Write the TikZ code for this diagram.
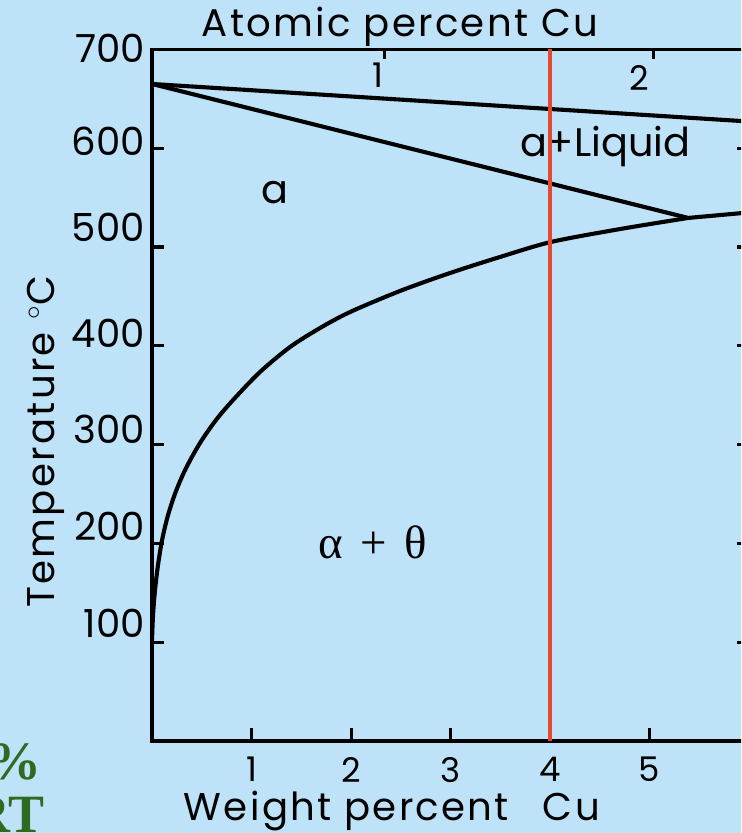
\documentclass[tikz,border=0pt]{standalone}
\usepackage{fix-cm}
\usepackage{fontspec}
\setsansfont{Poppins}
\newfontfamily\axisfont[LetterSpace=6]{Poppins}
\newfontfamily\slideserif{Liberation Serif}
\usetikzlibrary{positioning}
\definecolor{bgblue}{HTML}{BEE3F8}
\definecolor{alloyred}{HTML}{E5482E}
\definecolor{slidegreen}{HTML}{2F6A22}

\begin{document}
\begin{tikzpicture}[
 x=2.985cm,y=0.02964cm,
 font=\sffamily,
 axisline/.style={line width=3.2pt,line cap=rect},
 phaseline/.style={line width=3.5pt,line join=round,line cap=round},
 tickmark/.style={line width=2.6pt},
 ticklbl/.style={font=\sffamily\fontsize{33}{36}\selectfont,inner sep=0pt},
 smalllbl/.style={font=\sffamily\fontsize{29}{32}\selectfont,inner sep=0pt},
 axlbl/.style={font=\axisfont\fontsize{33}{36}\selectfont,inner sep=0pt},
 phaselbl/.style={font=\sffamily\fontsize{34}{38}\selectfont,inner sep=0pt},
 slidebit/.style={font=\slideserif\bfseries\fontsize{46}{50}\selectfont,text=slidegreen,inner sep=0pt}
]
% page and frame
\fill[bgblue] (-1.5276,-93.12) rectangle (5.9196,750);
\clip (-1.5276,-93.12) rectangle (5.9196,750);

% leftovers of the slide
\node[slidebit,anchor=east] (pct) at (-1.105,-21) {\%};
\node[slidebit,anchor=north east] (rt) at (-1.075,-57) {RT};

% axes
\draw[axisline] (0,700) -- (0,0) -- (6,0) -- (6,700) -- cycle;
\foreach \t/\ly in {100/119,200/217,300/315,400/413,500/520,600/607,700/701}{
  \node[ticklbl,anchor=east] (ylbl\t) at (-0.07,\ly) {\t};
}
\foreach \t in {100,200,...,600}{
  \draw[tickmark] (0,\t) -- (0.12,\t);
  \draw[tickmark] (6,\t) -- (5.88,\t);
}
\foreach \w in {1,...,5}{
  \draw[tickmark] (\w,0) -- (\w,13);
  \node[smalllbl] (xlbl\w) at (\w,-29) {\w};
}
% atomic percent ticks
\draw[tickmark] (2.34,700) -- (2.34,690);
\draw[tickmark] (5.04,700) -- (5.04,690);
\node[smalllbl] (at1) at (2.27,674) {1};
\node[smalllbl] (at2) at (4.90,671) {2};

\node[axlbl] (atomic) at (2.49,723) {Atomic percent Cu};
\node[axlbl] (weight) at (2.41,-71) {Weight percent\hspace{0.55em} Cu};
\node[axlbl,rotate=90] (temp) at (-1.065,303) {Temperature $^{\circ}$C};

% phase boundaries
\coordinate (melt) at (0,665);
\coordinate (eut) at (5.387,529.4);
\coordinate (liqend) at (6,627);
\coordinate (eutend) at (6,535);
\draw[phaseline] (melt) -- (liqend);
\draw[phaseline] (melt) -- (eut) -- (eutend);
\draw[phaseline] plot[smooth] coordinates {(0,102.2) (0.010,127.5) (0.030,152.8)
  (0.060,178.1) (0.101,203.4) (0.161,228.7) (0.241,253.0) (0.342,276.3)
  (0.482,301.6) (0.643,324.9) (0.814,345.1) (1.085,373.5) (1.387,398.8)
  (1.688,418.0) (1.990,434.2) (2.492,455.5) (2.995,473.7) (3.497,489.9)
  (4.010,505.1) (4.704,518.2) (eut)};

% phase fields
\node[phaselbl] (alpha) at (1.236,555) {a};
\node[phaselbl] (aliq) at (4.553,602) {a+Liquid};
\node[font=\slideserif\fontsize{40}{44}\selectfont,inner sep=0pt] (atheta) at (2.22,201) {α\hspace{0.12em} + \hspace{0.12em}θ};

% the 4 wt% alloy
\coordinate (alloybot) at (4,0);
\coordinate (alloytop) at (4,700);
\draw[alloyred,line width=3.6pt] (alloybot) -- (alloytop);
\end{tikzpicture}
\end{document}
